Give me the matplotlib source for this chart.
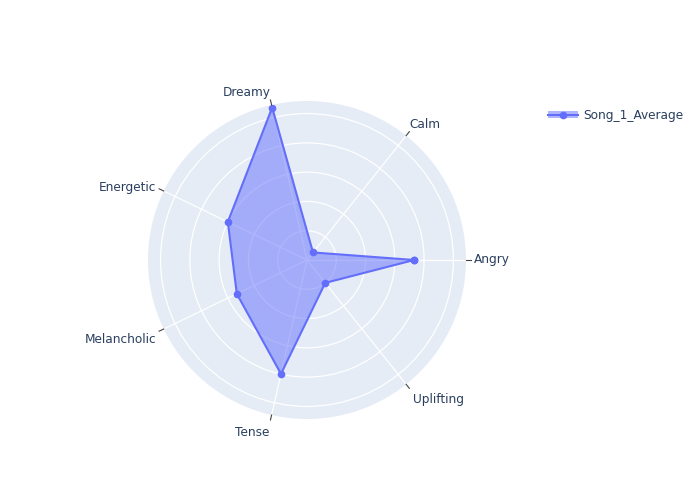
import numpy as np
import matplotlib
matplotlib.use("Agg")
import matplotlib.pyplot as plt
from matplotlib.patches import Patch
from matplotlib.lines import Line2D
from matplotlib.legend_handler import HandlerTuple

categories = ["Angry", "Calm", "Dreamy", "Energetic", "Melancholic", "Tense", "Uplifting"]
values = [3.66, 0.33, 5.34, 3.0, 2.66, 3.99, 1.0]
series_name = "Song_1_Average"
r_ticks = [1, 2, 3, 4, 5]
r_max = 5.43

plt.rcParams['font.family'] = ['DejaVu Sans']
text_color = "#2a3f5f"
line_color = "#636EFA"
fs = 8.7

fig = plt.figure(figsize=(7, 5), dpi=100)
ax = fig.add_axes([0.2114, 0.162, 0.4543, 0.636], projection='polar')
ax.set_facecolor("#E5ECF6")
ax.spines['polar'].set_visible(False)

n = len(categories)
angles = np.arange(n) * 2 * np.pi / n
ax.set_ylim(0, r_max)
ax.set_yticks(r_ticks)
ax.set_yticklabels([])
ax.set_xticks(angles)
ax.set_xticklabels([])
ax.tick_params(axis='x', length=0)
ax.tick_params(axis='y', length=0)
ax.grid(True, color="white", linewidth=0.9)
ax.set_axisbelow(True)

ang_closed = np.append(angles, angles[0])
val_closed = np.append(values, values[0])
ax.fill(ang_closed, val_closed, color=line_color, alpha=0.5, linewidth=0, zorder=2)
ax.plot(ang_closed, val_closed, color=line_color, linewidth=1.5, marker='o',
        markersize=4.5, zorder=3)

# tick marks and labels outside the circle
for a, lab in zip(angles, categories):
    ax.plot([a, a], [r_max, r_max * 1.032], color="#444444", linewidth=0.8,
            clip_on=False, zorder=4)
    c, s = np.cos(a), np.sin(a)
    if c > 0.3:
        ha = 'left'
    elif c < -0.15:
        ha = 'right'
    else:
        ha = 'center'
    if s > 0.5:
        va = 'bottom'
    elif s < -0.3:
        va = 'top'
    else:
        va = 'center'
    if abs(s) > 0.9:
        ha = 'right'
    if s > 0.5:
        rr = r_max * 1.036
    elif s < -0.5:
        rr = r_max * 1.068
    else:
        rr = r_max * 1.052
    ax.text(a, rr, lab, ha=ha, va=va, fontsize=fs, color=text_color,
            clip_on=False)

handle = (Patch(facecolor=line_color, alpha=0.5, edgecolor='none'),
          Line2D([], [], color=line_color, linewidth=1.5, marker='o', markersize=4.5))
fig.legend([handle], [series_name], loc='upper left',
           bbox_to_anchor=(0.767, 0.804), frameon=False, fontsize=fs,
           labelcolor=text_color, handlelength=2.5, handleheight=0.6,
           handletextpad=0.4,
           handler_map={tuple: HandlerTuple(ndivide=1)})

fig.savefig("out.png", dpi=100, facecolor="white")
